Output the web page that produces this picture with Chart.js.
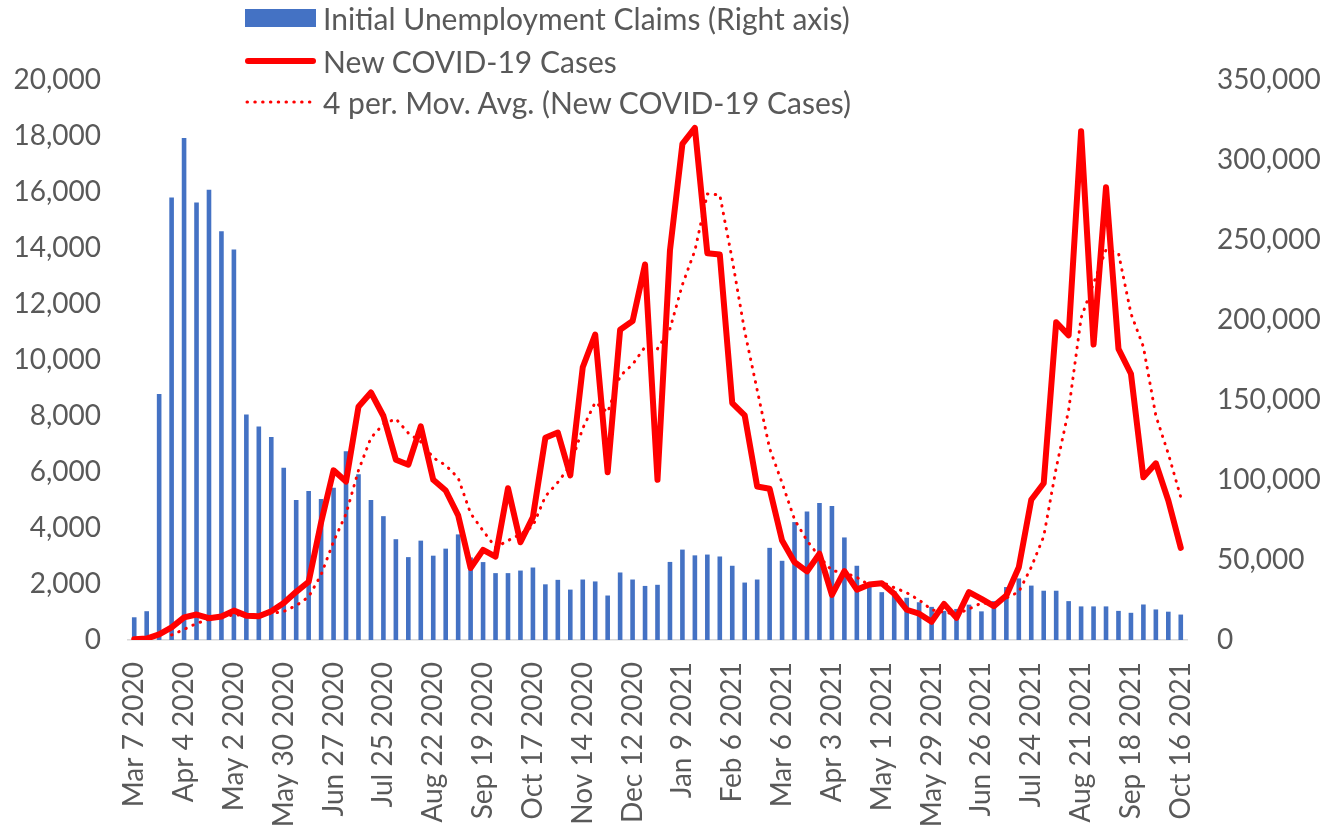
<!DOCTYPE html>
<html><head><meta charset="utf-8">
<script src="https://cdn.jsdelivr.net/npm/chart.js@4.4.1/dist/chart.umd.min.js"></script>
<style>
html,body{margin:0;padding:0;background:#fff;}
#wrap{position:relative;width:1343px;height:830px;}
#legend{position:absolute;left:245px;top:0;font-family:Lato,'Open Sans',sans-serif;font-size:30px;color:#595959;}
.row{position:absolute;left:0;height:40px;display:flex;align-items:center;white-space:nowrap;}
.row svg{margin-right:7px;flex:none;}
</style></head>
<body><div id="wrap"><canvas id="c" width="1343" height="830"></canvas><div id="legend"></div></div>
<script>
const weeks = ["Mar 7 2020","Mar 14 2020","Mar 21 2020","Mar 28 2020","Apr 4 2020","Apr 11 2020","Apr 18 2020","Apr 25 2020","May 2 2020","May 9 2020","May 16 2020","May 23 2020","May 30 2020","Jun 6 2020","Jun 13 2020","Jun 20 2020","Jun 27 2020","Jul 4 2020","Jul 11 2020","Jul 18 2020","Jul 25 2020","Aug 1 2020","Aug 8 2020","Aug 15 2020","Aug 22 2020","Aug 29 2020","Sep 5 2020","Sep 12 2020","Sep 19 2020","Sep 26 2020","Oct 3 2020","Oct 10 2020","Oct 17 2020","Oct 24 2020","Oct 31 2020","Nov 7 2020","Nov 14 2020","Nov 21 2020","Nov 28 2020","Dec 5 2020","Dec 12 2020","Dec 19 2020","Dec 26 2020","Jan 2 2021","Jan 9 2021","Jan 16 2021","Jan 23 2021","Jan 30 2021","Feb 6 2021","Feb 13 2021","Feb 20 2021","Feb 27 2021","Mar 6 2021","Mar 13 2021","Mar 20 2021","Mar 27 2021","Apr 3 2021","Apr 10 2021","Apr 17 2021","Apr 24 2021","May 1 2021","May 8 2021","May 15 2021","May 22 2021","May 29 2021","Jun 5 2021","Jun 12 2021","Jun 19 2021","Jun 26 2021","Jul 3 2021","Jul 10 2021","Jul 17 2021","Jul 24 2021","Jul 31 2021","Aug 7 2021","Aug 14 2021","Aug 21 2021","Aug 28 2021","Sep 4 2021","Sep 11 2021","Sep 18 2021","Sep 25 2021","Oct 2 2021","Oct 9 2021","Oct 16 2021"];

const xTickLabels = ["Mar 7 2020","Apr 4 2020","May 2 2020","May 30 2020","Jun 27 2020","Jul 25 2020","Aug 22 2020","Sep 19 2020","Oct 17 2020","Nov 14 2020","Dec 12 2020","Jan 9 2021","Feb 6 2021","Mar 6 2021","Apr 3 2021","May 1 2021","May 29 2021","Jun 26 2021","Jul 24 2021","Aug 21 2021","Sep 18 2021","Oct 16 2021"];

const leftTicks = [0,2000,4000,6000,8000,10000,12000,14000,16000,18000,20000];
const rightTicks = [0,50000,100000,150000,200000,250000,300000,350000];

const claimsLabel = "Initial Unemployment Claims (Right axis)";
const claims = [14200,18000,153800,276500,313800,273400,281400,255500,244100,140900,
133400,126900,107600,87500,93100,88200,95200,118000,103600,87500,
77400,63000,51800,62100,52700,57100,66000,51600,48700,41800,
41800,43400,45300,34800,37600,31500,37800,36600,27800,42200,
37800,33800,34500,48800,56500,52900,53400,52200,46400,35900,
37800,57600,49500,73700,80300,85600,83800,64100,46400,35000,
29900,30500,26400,23600,20700,18200,19400,22100,17900,24300,
33100,38500,34000,30800,30800,24300,21000,21000,21000,18200,
17000,22200,19100,17700,15900];

const casesLabel = "New COVID-19 Cases";
const cases = [30,50,200,450,810,910,780,840,1050,870,
850,1030,1320,1720,2080,4200,6060,5660,8330,8840,
8000,6440,6260,7630,5720,5340,4450,2570,3220,2980,
5420,3490,4390,7220,7410,5880,9740,10910,5990,11080,
11390,13410,5720,13910,17720,18290,13810,13770,8460,8020,
5480,5400,3550,2780,2450,3080,1610,2460,1800,1980,
2030,1650,1080,940,650,1290,790,1710,1470,1210,
1590,2600,5010,5600,11350,10880,18170,10550,16170,10400,
9510,5810,6310,4980,3290];

const maLabel = "4 per. Mov. Avg. (New COVID-19 Cases)";
const movingAvg = [null,null,null,180,380,590,740,835,895,885,
900,950,1020,1230,1540,2330,3520,4500,6060,7220,
7710,7900,7390,7080,6510,6240,5790,4520,3900,3310,
3550,3780,4070,5130,5630,6230,7560,8490,8130,9430,
9840,10470,10400,11110,12690,13910,15930,15900,13580,11020,
8930,6840,5610,4300,3550,2970,2480,2400,2240,1960,
2070,1870,1690,1430,1080,990,920,1110,1320,1300,
1500,1720,2600,3700,6140,8210,11500,12740,13940,13820,
11660,10470,8010,6650,5100];

const BLUE = '#4472C4', RED = '#FF0000', TXT = '#595959';
const FONT = {family: "Lato, 'Open Sans', sans-serif", size: 28};

const chart = new Chart(document.getElementById('c'), {
  type: 'bar',
  data: {
    labels: weeks,
    datasets: [
      {type:'line', label: casesLabel, data: cases, yAxisID:'y', borderColor: RED, backgroundColor: RED,
       borderWidth: 6, pointRadius: 0, tension: 0, borderJoinStyle:'round', borderCapStyle:'round', order: 1},
      {type:'line', label: maLabel, data: movingAvg, yAxisID:'y', borderColor: RED, backgroundColor: RED,
       borderWidth: 3, borderDash:[0.5,7.3], borderCapStyle:'round', pointRadius: 0, tension: 0, order: 2},
      {type:'bar', label: claimsLabel, data: claims, yAxisID:'y1', backgroundColor: BLUE,
       barPercentage: 0.37, categoryPercentage: 1.0, order: 3}
    ]
  },
  options: {
    responsive: false,
    animation: false,
    devicePixelRatio: 1,
    layout: {padding: {top: 80, left: 0, right: 0, bottom: 0}},
    plugins: {legend: {display: false}, tooltip: {enabled: false}},
    scales: {
      x: {
        offset: true,
        grid: {display: false, drawTicks: false},
        border: {display: true, color: '#D9D9D9', width: 1.5},
        ticks: {autoSkip: false, minRotation: 90, maxRotation: 90, padding: 22, color: TXT, font: FONT,
          callback: function(v, i){ const l = weeks[i]; return xTickLabels.includes(l) ? l : ''; }},
        afterFit: s => { s.height = 190; }
      },
      y: {
        position: 'left', min: 0, max: 20000,
        grid: {display: false, drawTicks: false},
        border: {display: false},
        ticks: {padding: 27, color: TXT, font: FONT},
        afterBuildTicks: s => { s.ticks = leftTicks.map(v => ({value: v})); },
        afterFit: s => { s.width = 128; }
      },
      y1: {
        position: 'right', min: 0, max: 350000,
        grid: {display: false, drawTicks: false},
        border: {display: false},
        ticks: {padding: 30, color: TXT, font: FONT},
        afterBuildTicks: s => { s.ticks = rightTicks.map(v => ({value: v})); },
        afterFit: s => { s.width = 156; }
      }
    }
  }
});

// HTML legend built from the datasets, stacked vertically
(function(){
  const lg = document.getElementById('legend');
  const order = [2, 0, 1];
  const centers = [18, 61, 102];
  order.forEach((di, k) => {
    const ds = chart.data.datasets[di];
    const row = document.createElement('div');
    row.className = 'row';
    row.style.top = (centers[k] - 20) + 'px';
    let svg;
    if (ds.type === 'bar') {
      svg = '<svg width="71" height="40"><rect x="0" y="11" width="71" height="18" fill="' + BLUE + '"/></svg>';
    } else if (ds.borderDash) {
      svg = '<svg width="71" height="40"><line x1="2" y1="20" x2="69" y2="20" stroke="' + RED + '" stroke-width="3" stroke-linecap="round" stroke-dasharray="0.5 7.3"/></svg>';
    } else {
      svg = '<svg width="71" height="40"><line x1="3" y1="20" x2="68" y2="20" stroke="' + RED + '" stroke-width="6" stroke-linecap="round"/></svg>';
    }
    row.innerHTML = svg + '<span>' + ds.label + '</span>';
    lg.appendChild(row);
  });
})();
</script>
</body></html>
